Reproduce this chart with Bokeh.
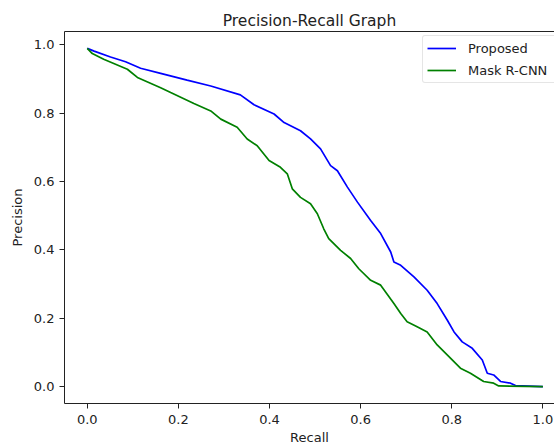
from bokeh.plotting import figure
from bokeh.models import Range1d, FixedTicker, PrintfTickFormatter, LinearAxis
from bokeh.embed import file_html
from bokeh.resources import INLINE

# ---- data ----
recall_proposed = [0.0, 0.015, 0.051, 0.084, 0.117, 0.161, 0.219, 0.271, 0.336, 0.366,
                   0.410, 0.432, 0.468, 0.490, 0.512, 0.534, 0.549, 0.571, 0.593, 0.622,
                   0.644, 0.666, 0.673, 0.688, 0.717, 0.746, 0.768, 0.790, 0.805, 0.823,
                   0.845, 0.867, 0.878, 0.892, 0.907, 0.929, 0.940, 1.0]
precision_proposed = [0.99, 0.982, 0.965, 0.951, 0.932, 0.917, 0.897, 0.880, 0.854, 0.825,
                      0.798, 0.773, 0.749, 0.725, 0.696, 0.647, 0.632, 0.584, 0.540, 0.486,
                      0.448, 0.394, 0.365, 0.355, 0.321, 0.282, 0.243, 0.195, 0.160, 0.131,
                      0.112, 0.078, 0.039, 0.034, 0.015, 0.010, 0.003, 0.0]

recall_mask = [0.0, 0.011, 0.036, 0.088, 0.110, 0.161, 0.183, 0.234, 0.271, 0.293,
               0.329, 0.351, 0.373, 0.399, 0.424, 0.439, 0.450, 0.468, 0.490, 0.505,
               0.519, 0.530, 0.556, 0.578, 0.596, 0.622, 0.644, 0.673, 0.688, 0.702,
               0.724, 0.746, 0.768, 0.790, 0.819, 0.841, 0.870, 0.892, 0.903, 1.0]
precision_mask = [0.99, 0.975, 0.958, 0.929, 0.905, 0.875, 0.861, 0.829, 0.807, 0.783,
                  0.759, 0.725, 0.705, 0.662, 0.642, 0.623, 0.579, 0.554, 0.535, 0.506,
                  0.462, 0.433, 0.399, 0.375, 0.345, 0.311, 0.297, 0.243, 0.214, 0.190,
                  0.175, 0.160, 0.122, 0.093, 0.054, 0.039, 0.015, 0.010, 0.002, 0.0]

x_ticks = [0.0, 0.2, 0.4, 0.6, 0.8, 1.0]
y_ticks = [0.0, 0.2, 0.4, 0.6, 0.8, 1.0]

title_text = "Precision-Recall Graph"
x_label = "Recall"
y_label = "Precision"
series_names = ["Proposed", "Mask R-CNN"]

FONT = "DejaVu Sans"
INK = "#222222"

p = figure(width=554, height=447, output_backend="svg", toolbar_location=None,
           x_range=Range1d(-0.05, 1.0255), y_range=Range1d(-0.0495, 1.0395),
           min_border_left=64, min_border_right=0, min_border_top=31, min_border_bottom=43)
p.outline_line_color = None
p.grid.visible = False
p.background_fill_color = "white"
p.border_fill_color = "white"

p.title.text = title_text
p.title.align = "center"
p.title.offset = 5.5
p.title.standoff = 4
p.title.text_font = FONT
p.title.text_font_size = "15.5px"
p.title.text_font_style = "normal"
p.title.text_color = INK

p.line(recall_proposed, precision_proposed, line_color="#0000ff", line_width=1.7,
       legend_label=series_names[0])
p.line(recall_mask, precision_mask, line_color="#008000", line_width=1.7,
       legend_label=series_names[1])

for ax, ticks in ((p.xaxis[0], x_ticks), (p.yaxis[0], y_ticks)):
    ax.ticker = FixedTicker(ticks=ticks)
    ax.formatter = PrintfTickFormatter(format="%.1f")
    ax.minor_tick_line_color = None
    ax.major_tick_in = 0
    ax.major_tick_out = 5
    ax.major_tick_line_color = INK
    ax.axis_line_color = INK
    ax.axis_line_width = 1
    ax.major_label_text_font = FONT
    ax.major_label_text_font_size = "13px"
    ax.major_label_text_color = INK
    ax.axis_label_text_font = FONT
    ax.axis_label_text_font_size = "13px"
    ax.axis_label_text_font_style = "normal"
    ax.axis_label_text_color = INK

p.xaxis.axis_label = x_label
p.yaxis.axis_label = y_label
p.xaxis.major_label_standoff = 6
p.xaxis.axis_label_standoff = 3
p.yaxis.major_label_standoff = 5
p.yaxis.axis_label_standoff = 6

top = LinearAxis(ticker=FixedTicker(ticks=[]), major_label_text_font_size="0px",
                 major_tick_line_color=None, minor_tick_line_color=None,
                 major_tick_out=0, major_tick_in=0, major_label_standoff=0,
                 axis_line_color=INK, axis_line_width=1)
p.add_layout(top, "above")

lg = p.legend[0]
lg.location = (358, 320)
lg.label_text_font = FONT
lg.label_text_font_size = "13px"
lg.label_text_color = INK
lg.glyph_width = 29
lg.glyph_height = 16
lg.label_height = 16
lg.label_width = 95
lg.label_standoff = 12
lg.padding = 4
lg.spacing = 6
lg.margin = 0
lg.border_line_color = "#cccccc"
lg.border_radius = 3
lg.background_fill_alpha = 0.8

open("out.html", "w").write(file_html(p, INLINE))
